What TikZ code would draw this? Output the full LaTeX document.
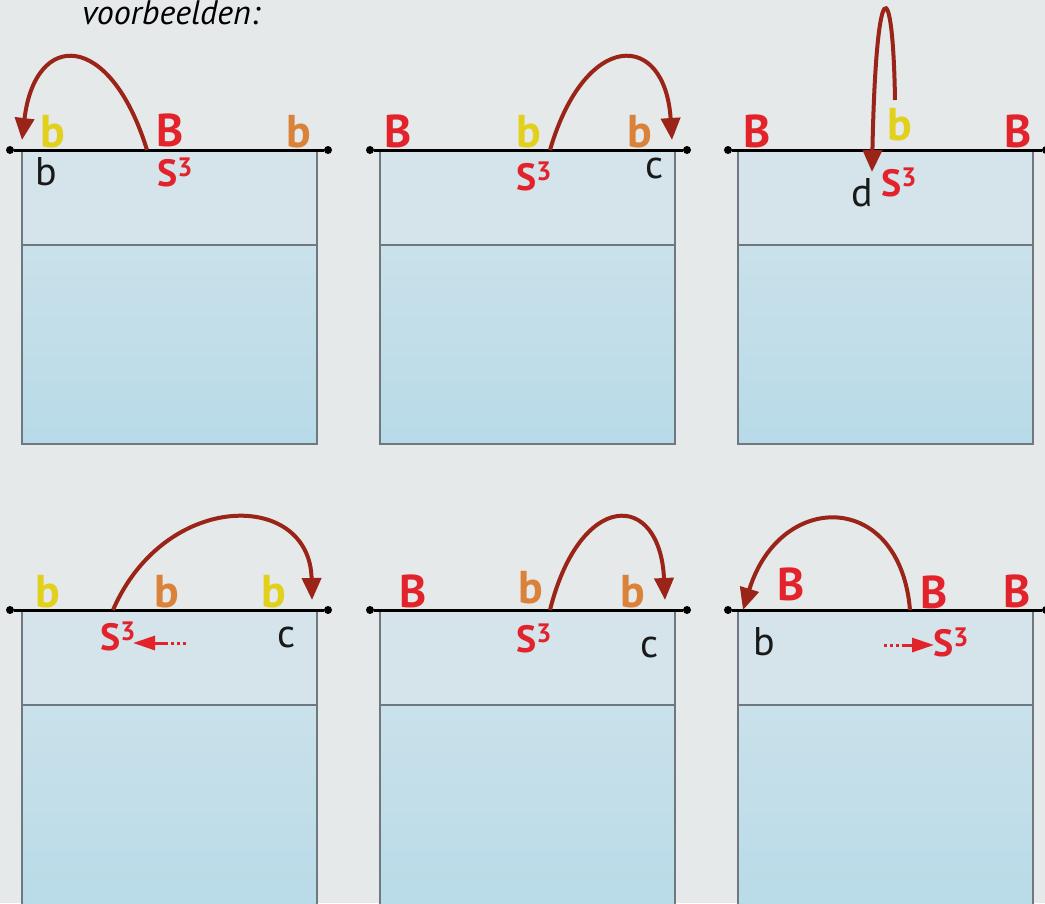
\documentclass[tikz,border=0pt]{standalone}
\usepackage{fontspec}
\setmainfont{PT Sans}
\usepackage{xcolor}
\usetikzlibrary{arrows.meta}

\definecolor{bgcol}{HTML}{E5E9EA}
\definecolor{labred}{HTML}{E3232B}
\definecolor{labyel}{HTML}{E2D11C}
\definecolor{laborg}{HTML}{DB823A}
\definecolor{jumpred}{HTML}{9A2418}
\definecolor{framegray}{HTML}{6E787E}
\definecolor{topfill}{HTML}{D4E4EA}
\definecolor{lowtop}{HTML}{C9E1EA}
\definecolor{lowbot}{HTML}{B8DAE8}

\newcommand{\cube}{S\textsuperscript{3}}

\begin{document}
\begin{tikzpicture}[
  x=1pt, y=-1pt,
  frame/.style={draw=framegray, line width=2pt},
  dot/.style={circle, fill=black, inner sep=0pt, minimum size=8pt},
  ground/.style={line width=3pt, black},
  jump/.style={line width=4pt, draw=jumpred, -{Triangle[length=22pt, width=19pt]}},
  slide/.style={line width=3pt, draw=labred, -{Triangle[length=22pt, width=14pt]}},
  slidedots/.style={line width=3pt, draw=labred, dash pattern=on 3pt off 3pt},
  big/.style={font=\fontsize{46}{46}\selectfont\bfseries, anchor=base, inner sep=0pt},
  small/.style={font=\fontsize{40}{40}\selectfont, anchor=base, inner sep=0pt, text=black!90},
  sup/.style={font=\fontsize{38}{38}\selectfont\bfseries, anchor=base west, inner sep=0pt, text=labred}
]
\useasboundingbox (0,0) rectangle (1045,903);
\clip (0,0) rectangle (1045,903);
\fill[bgcol] (0,0) rectangle (1045,903);

\node[font=\fontsize{34}{34}\selectfont\itshape, anchor=base west, inner sep=0pt] (title) at (82,24) {voorbeelden:};

% the six cups
\foreach \x/\y/\h in {22/150/294, 380/150/294, 738/150/294, 22/610/310, 380/610/310, 738/610/310}{
  \fill[topfill] (\x,\y) rectangle ++(295,95);
  \fill[top color=lowtop, bottom color=lowbot] (\x,{\y+95}) rectangle ++(295,{\h-95});
  \draw[frame] (\x,\y) rectangle ++(295,\h);
  \draw[frame] (\x,{\y+95}) -- ++(295,0);
}

% surface lines
\node[dot] (gl1) at (10,150) {};
\node[dot] (gr1) at (328,150) {};
\node[dot] (gl2) at (370,150) {};
\node[dot] (gr2) at (687,150) {};
\node[dot] (gl3) at (728,150) {};
\node[dot] (gr3) at (1046,150) {};
\node[dot] (gl4) at (10,610) {};
\node[dot] (gr4) at (328,610) {};
\node[dot] (gl5) at (370,610) {};
\node[dot] (gr5) at (687,610) {};
\node[dot] (gl6) at (728,610) {};
\node[dot] (gr6) at (1046,610) {};
\draw[ground] (gl1) -- (gr1);
\draw[ground] (gl2) -- (gr2);
\draw[ground] (gl3) -- (gr3);
\draw[ground] (gl4) -- (gr4);
\draw[ground] (gl5) -- (gr5);
\draw[ground] (gl6) -- (gr6);

% panel 1
\node[big, text=labyel] (yb1) at (53,147) {b};
\node[big, text=labred] (rB1) at (170,146) {B};
\node[big, text=laborg] (ob1) at (299,147) {b};
\node[small] (kb1) at (46,185) {b};
\node[sup] (s1) at (157,186) {\cube};

% panel 2
\node[big, text=labred] (rB2) at (398,147) {B};
\node[big, text=labyel] (yb2) at (529,147) {b};
\node[big, text=laborg] (ob2) at (640,147) {b};
\node[sup] (s2) at (516,190) {\cube};
\node[small] (kc2) at (655,178) {c};

% panel 3
\node[big, text=labred] (rB3) at (757,147) {B};
\node[big, text=labyel] (yb3) at (900,140) {b};
\node[big, text=labred] (rB3b) at (1018,147) {B};
\node[small] (kd3) at (862,206) {d};
\node[sup] (s3) at (881,196) {\cube};

% panel 4
\node[big, text=labyel] (yb4) at (48,607) {b};
\node[big, text=laborg] (ob4) at (167,607) {b};
\node[big, text=labyel] (yb4b) at (274,607) {b};
\node[sup] (s4) at (100,650) {\cube};
\node[small] (kc4) at (287,647) {c};

% panel 5
\node[big, text=labred] (rB5) at (413,607) {B};
\node[big, text=laborg] (ob5) at (531,603) {b};
\node[big, text=laborg] (ob5b) at (633,607) {b};
\node[sup] (s5) at (516,652) {\cube};
\node[small] (kc5) at (650,657) {c};

% panel 6
\node[big, text=labred] (rB6) at (791,600) {B};
\node[big, text=labred] (rB6b) at (934,608) {B};
\node[big, text=labred] (rB6c) at (1017,607) {B};
\node[small] (kb6) at (764,655) {b};
\node[sup] (s6) at (933,656) {\cube};

% jumps
\coordinate (j1s) at (147,150);
\coordinate (j1e) at (22,140);
\coordinate (j2s) at (550,150);
\coordinate (j2e) at (672,140);
\coordinate (j3s) at (895,100);
\coordinate (j3e) at (872,172);
\coordinate (j4s) at (113,610);
\coordinate (j4e) at (312,600);
\coordinate (j5s) at (550,610);
\coordinate (j5e) at (665,600);
\coordinate (j6s) at (910,610);
\coordinate (j6e) at (743,610);
\draw[jump] (j1s) .. controls (110,30) and (35,30) .. (j1e);
\draw[jump] (j2s) .. controls (585,30) and (665,30) .. (j2e);
\draw[jump] (j3s) .. controls (893,-30) and (876,-30) .. (j3e);
\draw[jump] (j4s) .. controls (165,490) and (310,490) .. (j4e);
\draw[jump] (j5s) .. controls (580,490) and (660,490) .. (j5e);
\draw[jump] (j6s) .. controls (900,490) and (780,490) .. (j6e);

% sliding S3
\coordinate (m4a) at (186,643);
\coordinate (m4b) at (166,643);
\coordinate (m4c) at (133,643);
\draw[slidedots] (m4a) -- (m4b);
\draw[slide] (m4b) -- (m4c);
\coordinate (m6a) at (884,645);
\coordinate (m6b) at (902,645);
\coordinate (m6c) at (934,645);
\draw[slidedots] (m6a) -- (m6b);
\draw[slide] (m6b) -- (m6c);

\end{tikzpicture}
\end{document}
